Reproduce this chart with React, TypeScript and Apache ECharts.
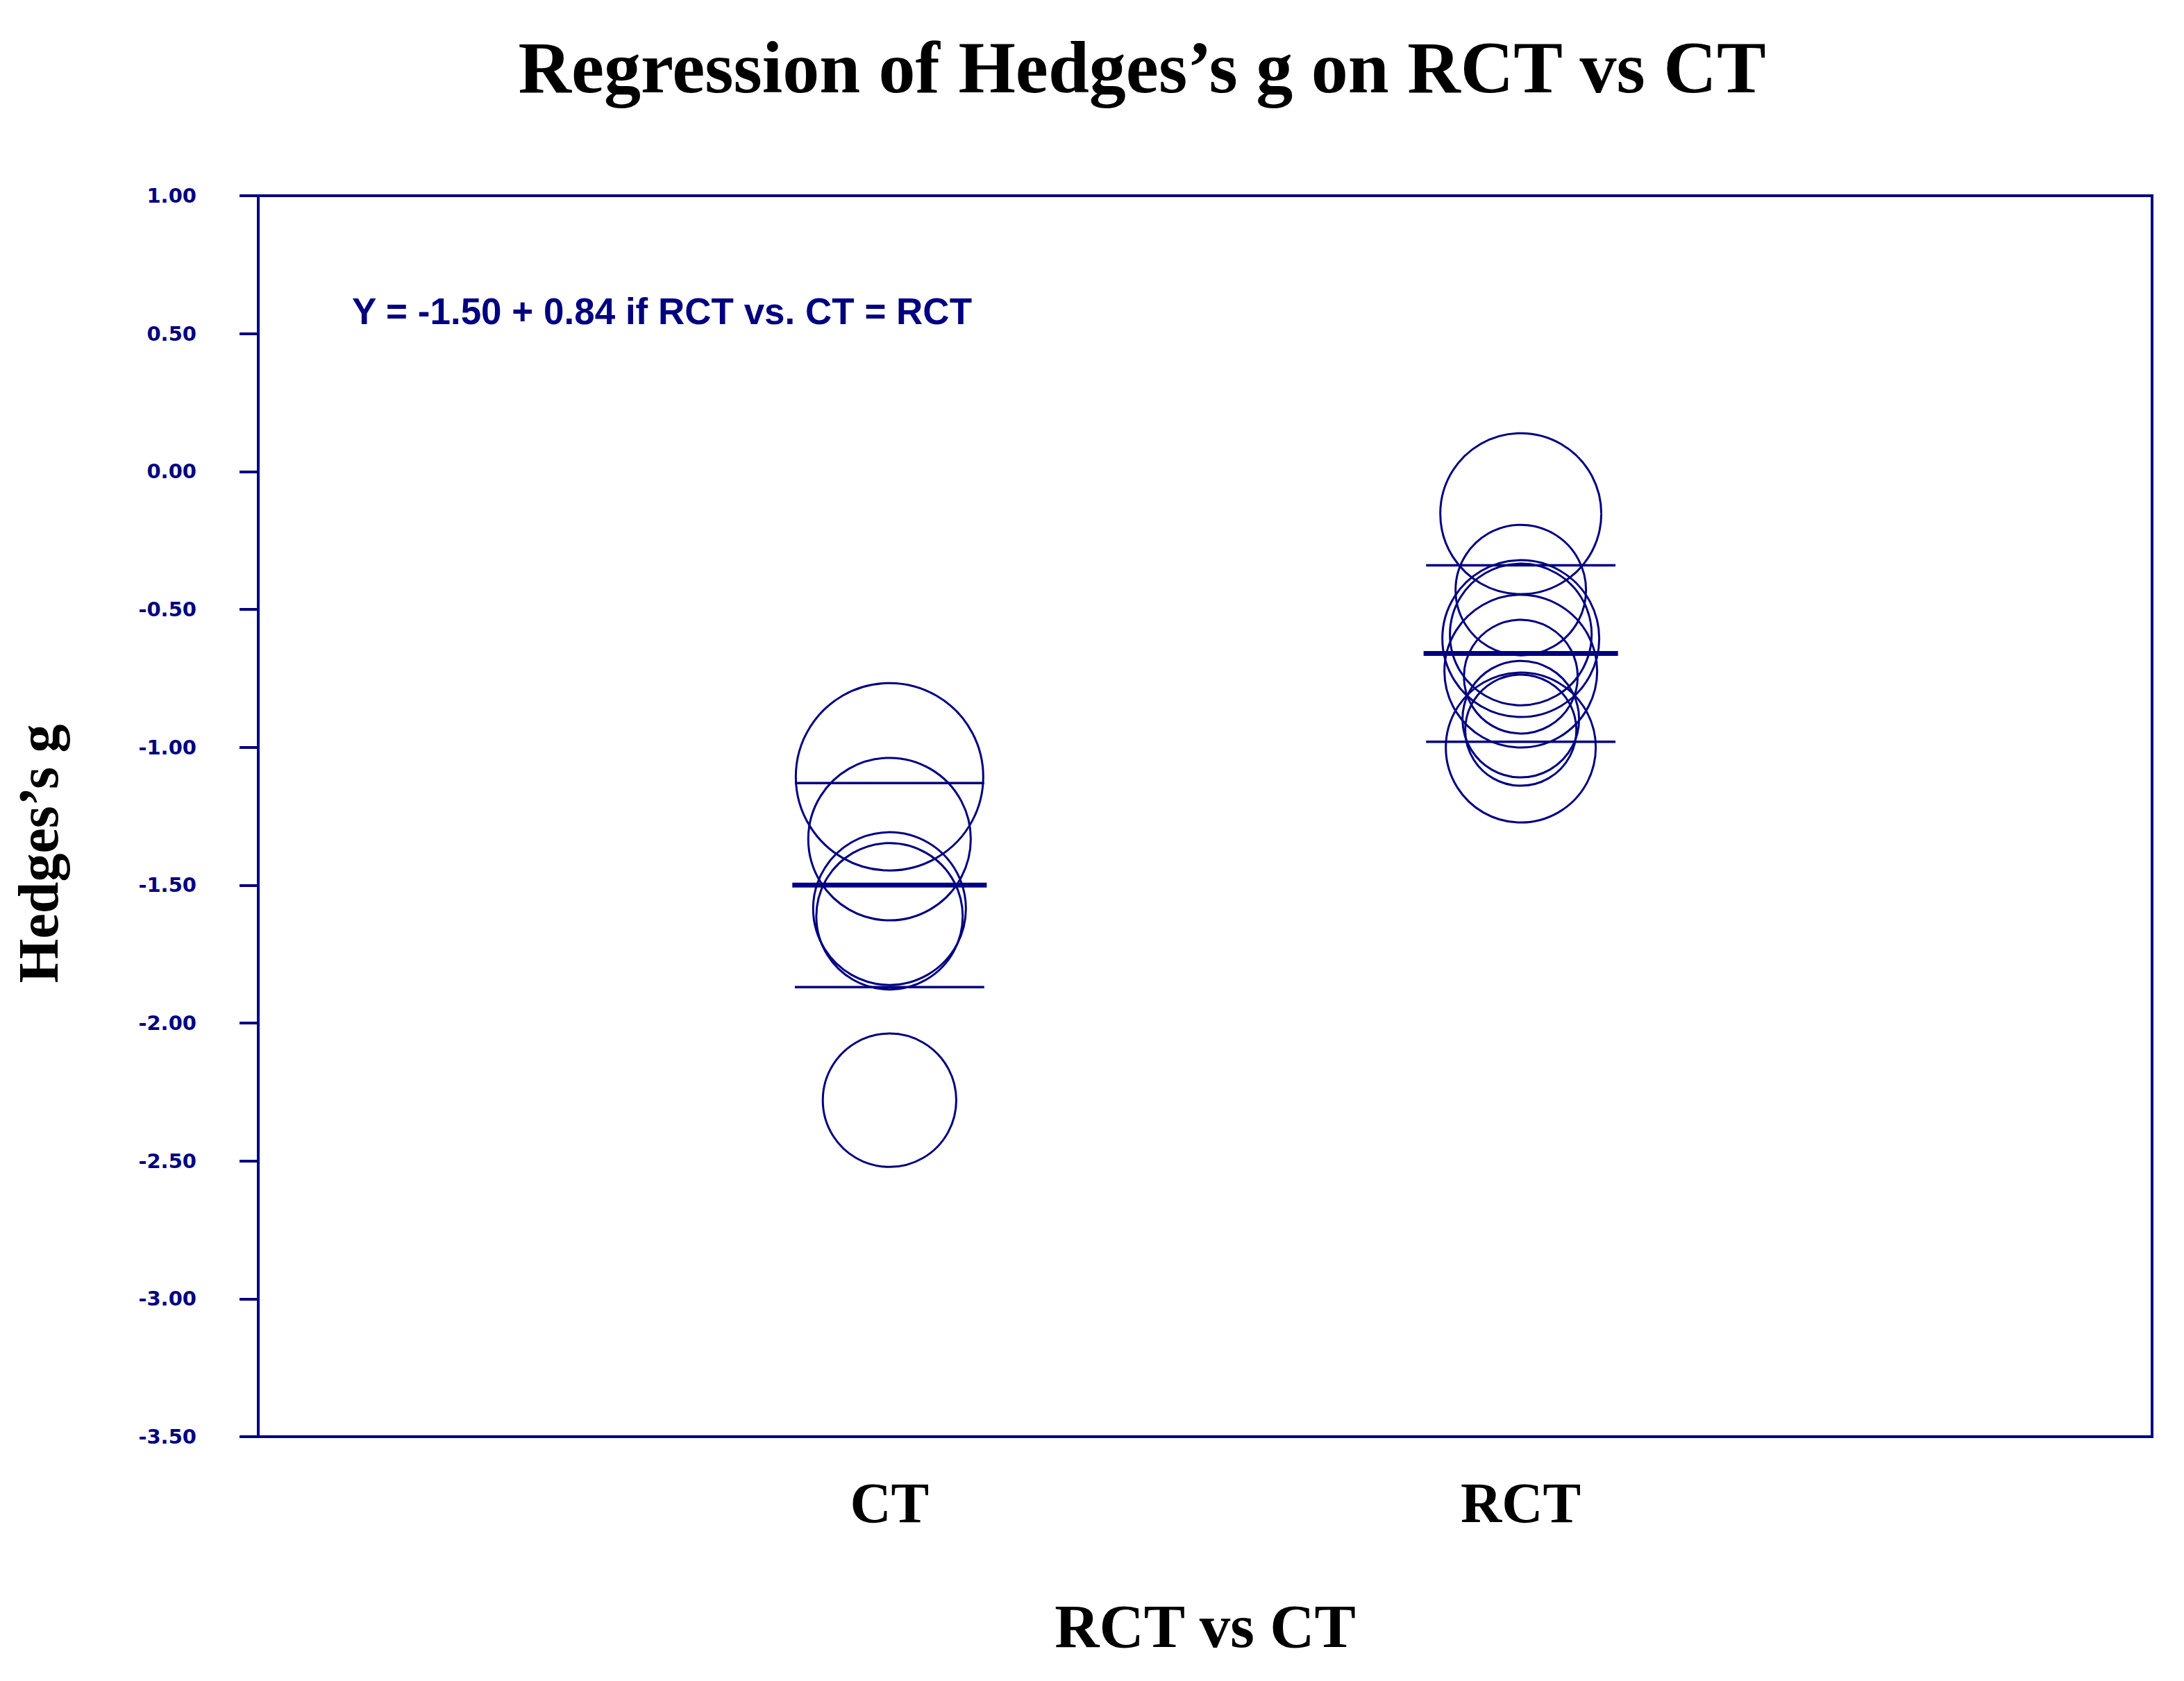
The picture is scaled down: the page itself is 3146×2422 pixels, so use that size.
import React, { useEffect, useRef } from 'react';
import * as echarts from 'echarts';

// ---- data ----
const groups = ['CT', 'RCT'];
const groupX = [1, 2];
// individual study effect sizes (Hedges's g) and relative circle sizes (study weight share)
const ctHedgesG = [-1.107, -1.333, -1.585, -1.613, -2.28];
const ctWeights = [1.0, 0.867, 0.815, 0.781, 0.712];
const rctHedgesG = [-0.153, -0.43, -0.591, -0.606, -0.724, -0.744, -0.898, -0.938, -1.001];
const rctWeights = [0.859, 0.696, 0.756, 0.837, 0.815, 0.607, 0.622, 0.593, 0.8];
// regression fit and confidence limits per group
const fitted = [-1.5, -0.66];
const ciLower = [-1.87, -0.98];
const ciUpper = [-1.13, -0.34];
const equation = 'Y = -1.50 + 0.84 if RCT vs. CT = RCT';
const yMin = -3.5;
const yMax = 1.0;
const yStep = 0.5;

const NAVY = '#000080';
const MAX_DIAMETER = 270;

export default function App() {
  const ref = useRef<HTMLDivElement>(null);
  useEffect(() => {
    document.body.style.margin = '0';
    if (!ref.current) return;
    const chart = echarts.init(ref.current, undefined, { renderer: 'svg' });

    const scatterData = [
      ...ctHedgesG.map((g, i) => [groupX[0], g, ctWeights[i]]),
      ...rctHedgesG.map((g, i) => [groupX[1], g, rctWeights[i]]),
    ];

    const lineSeries: any[] = [];
    groups.forEach((_, i) => {
      const segs = [
        { y: fitted[i], half: 0.154, w: 7 },
        { y: ciLower[i], half: 0.15, w: 3.5 },
        { y: ciUpper[i], half: 0.15, w: 3.5 },
      ];
      segs.forEach((s) => {
        lineSeries.push({
          type: 'line',
          silent: true,
          symbol: 'none',
          data: [
            [groupX[i] - s.half, s.y],
            [groupX[i] + s.half, s.y],
          ],
          lineStyle: { color: NAVY, width: s.w },
          z: 3,
        });
      });
    });

    chart.setOption({
      animation: false,
      grid: {
        left: 372,
        right: 46,
        top: 282,
        bottom: 352,
        show: true,
        borderColor: NAVY,
        borderWidth: 4,
        backgroundColor: 'transparent',
      },
      xAxis: {
        type: 'value',
        min: 0,
        max: 3,
        interval: 1,
        axisLine: { show: false },
        axisTick: { show: false },
        splitLine: { show: false },
        axisLabel: {
          formatter: (v: number) => {
            const k = groupX.indexOf(v);
            return k >= 0 ? groups[k] : '';
          },
          fontFamily: 'Liberation Serif',
          fontWeight: 'bold',
          fontSize: 82,
          color: '#000',
          margin: 54,
        },
        name: 'RCT vs CT',
        nameLocation: 'middle',
        nameGap: 228,
        nameTextStyle: {
          fontFamily: 'Liberation Serif',
          fontWeight: 'bold',
          fontSize: 89,
          color: '#000',
        },
      },
      yAxis: {
        type: 'value',
        min: yMin,
        max: yMax,
        interval: yStep,
        axisLine: { show: true, lineStyle: { color: NAVY, width: 4 } },
        axisTick: { show: true, inside: false, length: 27, lineStyle: { color: NAVY, width: 4 } },
        splitLine: { show: false },
        axisLabel: {
          formatter: (v: number) => v.toFixed(2),
          fontFamily: 'DejaVu Sans',
          fontWeight: 'bold',
          fontSize: 29,
          color: NAVY,
          margin: 89,
        },
      },
      graphic: [
        {
          type: 'text',
          x: 1645,
          y: 97,
          style: {
            text: 'Regression of Hedges\u2019s g on RCT vs CT',
            fontFamily: 'Liberation Serif',
            fontWeight: 'bold',
            fontSize: 106,
            fill: '#000',
            align: 'center',
            verticalAlign: 'middle',
          },
        },
        {
          type: 'text',
          x: 55,
          y: 1230,
          rotation: Math.PI / 2,
          style: {
            text: 'Hedges\u2019s g',
            fontFamily: 'Liberation Serif',
            fontWeight: 'bold',
            fontSize: 82,
            fill: '#000',
            align: 'center',
            verticalAlign: 'middle',
          },
        },
        {
          type: 'text',
          x: 507,
          y: 448,
          style: {
            text: equation,
            fontFamily: 'Liberation Sans',
            fontWeight: 'bold',
            fontSize: 53,
            fill: NAVY,
            align: 'left',
            verticalAlign: 'middle',
          },
        },
      ],
      series: [
        {
          type: 'scatter',
          silent: true,
          symbol: 'circle',
          data: scatterData,
          symbolSize: (d: number[]) => d[2] * MAX_DIAMETER,
          itemStyle: { color: 'rgba(0,0,0,0)', borderColor: NAVY, borderWidth: 3, opacity: 1 },
          z: 2,
        },
        ...lineSeries,
      ],
    });
    return () => chart.dispose();
  }, []);
  return <div ref={ref} style={{ width: 3146, height: 2422 }} />;
}
